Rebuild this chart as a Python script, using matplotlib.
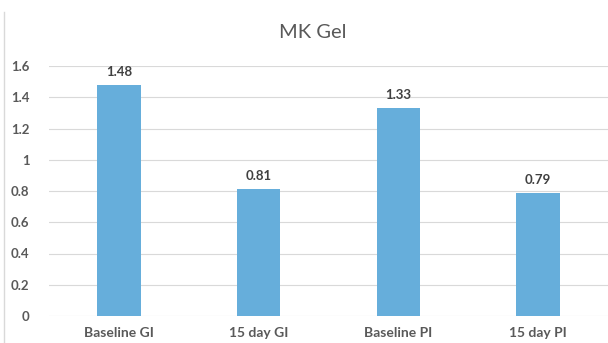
import matplotlib
matplotlib.use("Agg")
import matplotlib.pyplot as plt
from matplotlib.lines import Line2D

categories = ["Baseline GI", "15 day GI", "Baseline PI", "15 day PI"]
values = [1.48, 0.81, 1.33, 0.79]
yticks = [0, 0.2, 0.4, 0.6, 0.8, 1.0, 1.2, 1.4, 1.6]
ytick_labels = ["0", "0.2", "0.4", "0.6", "0.8", "1", "1.2", "1.4", "1.6"]

plt.rcParams['font.family'] = ['Lato', 'DejaVu Sans']

fig = plt.figure(figsize=(6.08, 3.43), dpi=100)
ax = fig.add_axes([49/608, 1-316/343, 559/608, 250/343])

x = range(len(categories))
bars = ax.bar(x, values, width=0.31, color="#66AEDB", zorder=3)
for xi, v in zip(x, values):
    ax.annotate(f"{v:.2f}", (xi, v), xytext=(0, 5), textcoords="offset points",
                ha="center", va="bottom", fontsize=9.5, fontweight="bold", color="#404040")

ax.set_xlim(-0.5, 3.5)
ax.set_ylim(0, 1.6)
ax.set_yticks(yticks)
ax.set_yticklabels(ytick_labels)
ax.set_xticks(list(x))
ax.set_xticklabels(categories)
ax.grid(axis="y", color="#D9D9D9", linewidth=0.8, zorder=0)
for s in ax.spines.values():
    s.set_visible(False)
ax.tick_params(axis="both", length=0, colors="#595959", labelsize=9.5)
ax.tick_params(axis="x", labelsize=10)
ax.tick_params(axis="y", pad=14)
ax.tick_params(axis="x", pad=8)
for lab in ax.get_xticklabels() + ax.get_yticklabels():
    lab.set_fontweight("bold")

fig.text(313/608, 1-33/343, "MK Gel", ha="center", va="center", fontsize=14.5, color="#595959")
fig.add_artist(Line2D([4/608, 4/608], [0, 1-12/343], transform=fig.transFigure,
                      color="#D9D9D9", linewidth=1))

fig.savefig("out.png", dpi=100)
